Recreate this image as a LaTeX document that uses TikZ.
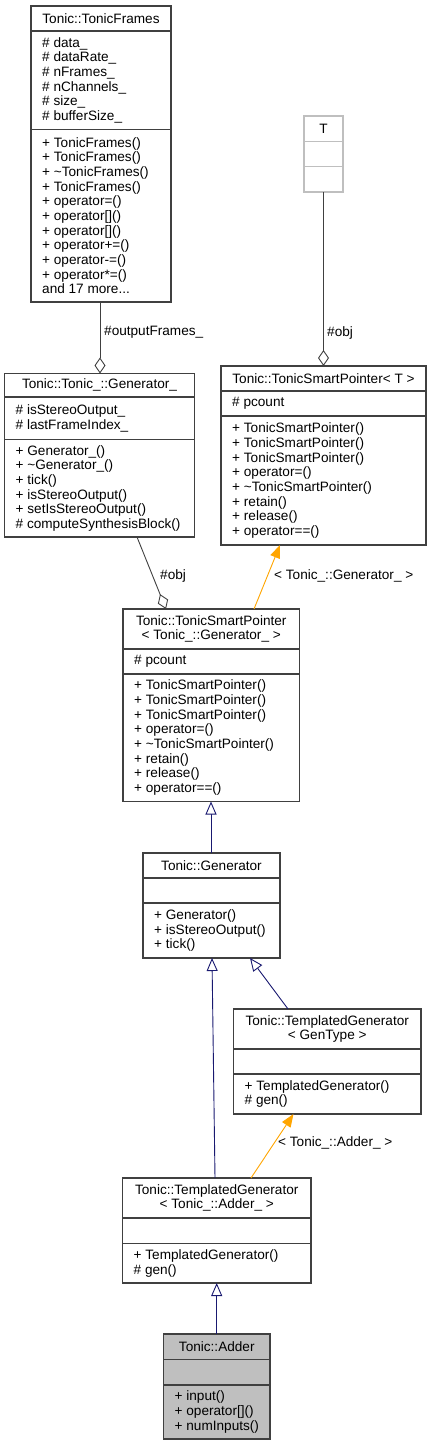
\documentclass[tikz,border=0pt]{standalone}
\usepackage{fontspec}
\setmainfont{Liberation Sans}
\usetikzlibrary{arrows.meta,calc}
\definecolor{bordc}{RGB}{64,64,64}
\definecolor{grayb}{RGB}{191,191,191}
\definecolor{inhc}{RGB}{25,25,112}
\definecolor{tmplc}{RGB}{255,165,0}
\newcommand\umlfont{\fontsize{13.6}{14.66}\selectfont}
\newcommand\cbox[8]{%
  \node[box,#8, minimum width={#4-#2}, minimum height={#5-#3}, anchor=north west] (#1) at (#2,#3) {};
  \draw[sepl] (#2,#6) -- (#4,#6);
  \draw[sepl] (#2,#7) -- (#4,#7);
  \coordinate (#1-t) at ({(#2+#4)/2},{(#3+#6)/2});
  \coordinate (#1-a) at ({#2+11},{(#6+#7)/2});
  \coordinate (#1-m) at ({#2+11},{(#7+#5)/2});
}
\begin{document}
\begin{tikzpicture}[x=1pt,y=-1pt,
  box/.style={draw=bordc, line width=1.2pt, fill=white, inner sep=0pt, outer sep=0pt},
  sepl/.style={draw=bordc, line width=1.2pt},
  title/.style={font=\umlfont, align=center, inner sep=0pt, text=black},
  mem/.style={font=\umlfont, align=left, anchor=west, inner sep=0pt, text=black},
  elabel/.style={font=\umlfont, anchor=west, inner sep=0pt, text=black},
  assoc/.style={draw=bordc, line width=0.9pt, -{Diamond[open,length=16pt,width=11pt,line width=0.9pt]}},
  inh/.style={draw=inhc, line width=0.9pt, -{Triangle[open,length=13pt,width=11pt,line width=0.9pt,fill=white]}},
  tmpl/.style={draw=tmplc, line width=0.9pt, -{Triangle[length=13pt,width=10pt]}}]
\useasboundingbox (0,0) rectangle (431,1445);

% Tonic::TonicFrames
\cbox{tf}{31}{6}{171}{302}{31}{129.5}{}
\node[title] (tft) at (tf-t) {Tonic::TonicFrames};
\node[mem] (tfa) at (tf-a) {\# data\_\\\# dataRate\_\\\# nFrames\_\\\# nChannels\_\\\# size\_\\\# bufferSize\_};
\node[mem] (tfm) at (tf-m) {+ TonicFrames()\\+ TonicFrames()\\+ \textasciitilde TonicFrames()\\+ TonicFrames()\\+ operator=()\\+ operator[]()\\+ operator[]()\\+ operator+=()\\+ operator-=()\\+ operator*=()\\and 17 more...};

% T
\cbox{tt}{304}{116}{343}{192}{141.3}{166.3}{draw=grayb}
\draw[draw=grayb, line width=1.2pt] (304,141.3) -- (343,141.3) (304,166.3) -- (343,166.3);
\node[title] (ttt) at (tt-t) {T};

% Tonic::TonicSmartPointer< T >
\cbox{tspt}{221}{366}{426}{545}{391}{416}{}
\node[title] (tsptt) at (tspt-t) {Tonic::TonicSmartPointer< T >};
\node[mem] (tspta) at (tspt-a) {\# pcount};
\node[mem] (tsptm) at (tspt-m) {+ TonicSmartPointer()\\+ TonicSmartPointer()\\+ TonicSmartPointer()\\+ operator=()\\+ \textasciitilde TonicSmartPointer()\\+ retain()\\+ release()\\+ operator==()};

% Tonic::Tonic_::Generator_
\cbox{gu}{4.5}{373.5}{194.5}{537}{397}{439.5}{}
\node[title] (gut) at (gu-t) {Tonic::Tonic\_::Generator\_};
\node[mem] (gua) at (gu-a) {\# isStereoOutput\_\\\# lastFrameIndex\_};
\node[mem] (gum) at (gu-m) {+ Generator\_()\\+ \textasciitilde Generator\_()\\+ tick()\\+ isStereoOutput()\\+ setIsStereoOutput()\\\# computeSynthesisBlock()};

% Tonic::TonicSmartPointer< Tonic_::Generator_ >
\cbox{tspg}{123}{609}{299.5}{801.5}{649}{674}{}
\node[title] (tspgt) at (tspg-t) {Tonic::TonicSmartPointer\\< Tonic\_::Generator\_ >};
\node[mem] (tspga) at (tspg-a) {\# pcount};
\node[mem] (tspgm) at (tspg-m) {+ TonicSmartPointer()\\+ TonicSmartPointer()\\+ TonicSmartPointer()\\+ operator=()\\+ \textasciitilde TonicSmartPointer()\\+ retain()\\+ release()\\+ operator==()};

% Tonic::Generator
\cbox{gen}{143}{853}{280}{958}{878}{903}{}
\node[title] (gent) at (gen-t) {Tonic::Generator};
\node[mem] (genm) at (gen-m) {+ Generator()\\+ isStereoOutput()\\+ tick()};

% Tonic::TemplatedGenerator< GenType >
\cbox{tgg}{233.5}{1009}{421}{1114}{1049}{1074}{}
\node[title] (tggt) at (tgg-t) {Tonic::TemplatedGenerator\\< GenType >};
\node[mem] (tggm) at (tgg-m) {+ TemplatedGenerator()\\\# gen()};

% Tonic::TemplatedGenerator< Tonic_::Adder_ >
\cbox{tga}{122.5}{1178}{311}{1283}{1218}{1243.5}{}
\node[title] (tgat) at (tga-t) {Tonic::TemplatedGenerator\\< Tonic\_::Adder\_ >};
\node[mem] (tgam) at (tga-m) {+ TemplatedGenerator()\\\# gen()};

% Tonic::Adder
\cbox{add}{163.5}{1334}{270}{1439}{1359.5}{1385}{fill=grayb}
\node[title] (addt) at (add-t) {Tonic::Adder};
\node[mem] (addm) at (add-m) {+ input()\\+ operator[]()\\+ numInputs()};

% connectors
\draw[assoc] ([xshift=-1pt]tf.south) -- ([xshift=-1pt]tf.south |- gu.north);
\node[elabel] (l1) at (104,332) {\#outputFrames\_};

\draw[assoc] (tt.south) -- (tt.south |- tspt.north);
\node[elabel] (l2) at (327,333) {\#obj};

\draw[assoc] ([xshift=132.5pt]gu.south west) -- ([xshift=43pt]tspg.north west);
\node[elabel] (l3) at (160,576) {\#obj};

\draw[tmpl] ([xshift=131pt]tspg.north west) -- ([xshift=59pt]tspt.south west);
\node[elabel] (l4) at (274,576) {< Tonic\_::Generator\_ >};

\draw[inh] ([xshift=88pt]tspg.south west |- gen.north) -- ([xshift=88pt]tspg.south west);

\draw[inh] ([xshift=54.5pt]tgg.north west) -- ([xshift=107pt]gen.south west);

\draw[inh] ([xshift=92.5pt]tga.north west) -- ([xshift=69pt]gen.south west);

\draw[tmpl] ([xshift=128.5pt]tga.north west) -- ([xshift=60pt]tgg.south west);
\node[elabel] (l5) at (278,1143) {< Tonic\_::Adder\_ >};

\draw[inh] ([xshift=53.2pt]add.north west) -- ([xshift=53.2pt]add.north west |- tga.south);
\end{tikzpicture}
\end{document}
